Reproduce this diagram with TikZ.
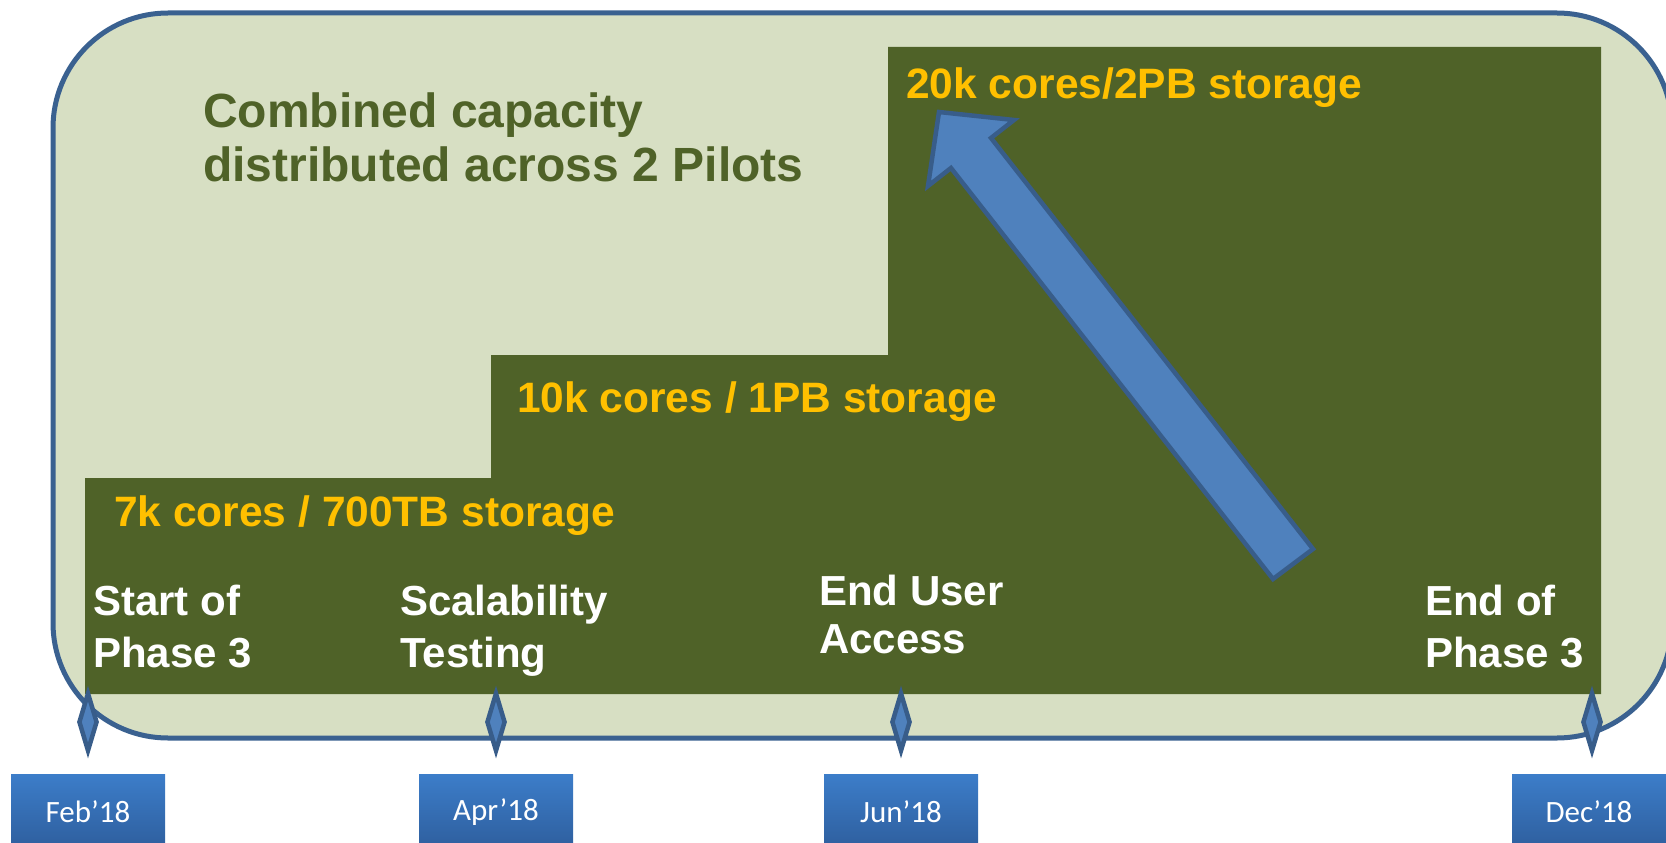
\documentclass[tikz,border=0pt]{standalone}
\usepackage{fontspec}
\setmainfont{Liberation Sans}
\newfontfamily\datefont{Carlito}
\usetikzlibrary{shapes.geometric}

\definecolor{panelfill}{HTML}{D7DFC3}
\definecolor{paneledge}{HTML}{3A6190}
\definecolor{stepgreen}{HTML}{4F6228}
\definecolor{capyellow}{HTML}{FFC000}
\definecolor{arrowblue}{HTML}{4F81BD}
\definecolor{arrowedge}{HTML}{385D8A}
\definecolor{boxtop}{HTML}{3C7DC9}
\definecolor{boxbottom}{HTML}{2E5E9D}

\tikzset{
  capacity/.style={text=capyellow, font=\bfseries\fontsize{42.5}{51}\selectfont,
    anchor=base west, inner sep=0pt},
  phase/.style={text=white, font=\bfseries\fontsize{42}{52}\selectfont,
    align=left, anchor=base west, inner sep=0pt},
  milestone/.style={diamond, draw=arrowedge, fill=arrowblue, line width=4.5pt,
    minimum width=19pt, minimum height=59pt, inner sep=0pt},
  datebox/.style={minimum width=154pt, minimum height=76pt, inner sep=0pt,
    top color=boxtop, bottom color=boxbottom, text=white,
    font=\datefont\fontsize{31}{37}\selectfont}
}

\begin{document}
\begin{tikzpicture}[x=1pt,y=-1pt]
\clip (0,0) rectangle (1666,843);

% panel
\draw[fill=panelfill, draw=paneledge, line width=5pt, rounded corners=115pt]
  (53,13) rectangle (1672,738);

% capacity steps
\fill[stepgreen] (85,694) -- (85,478) -- (491,478) -- (491,355) -- (888,355)
  -- (888,47) -- (1601,47) -- (1601,694) -- cycle;

% multi-line nodes sit on the baseline of their last line
\node[anchor=base west, inner sep=0pt, text=stepgreen, align=left,
  font=\bfseries\fontsize{48}{54}\selectfont] (title) at (203,181)
  {Combined capacity\\distributed across 2 Pilots};

\node[capacity] (cap3) at (906,99) {20k cores/2PB storage};
\node[capacity] (cap2) at (517,412) {10k cores / 1PB storage};
\node[capacity] (cap1) at (114,526) {7k cores / 700TB storage};

% growth arrow
\draw[fill=arrowblue, draw=arrowedge, line width=4.5pt, line join=miter]
  (1273,579) -- (1313,549) -- (991,138) -- (1014,120) -- (939,112)
  -- (928,186) -- (951,168) -- cycle;

\node[phase] (start) at (93,667) {Start of\\Phase 3};
\node[phase] (scale) at (400,667) {Scalability\\Testing};
\node[phase, font=\bfseries\fontsize{42}{48}\selectfont] (user) at (819,653) {End User\\Access};
\node[phase] (finish) at (1425,667) {End of\\Phase 3};

% milestones and dates
\node[milestone] (m1) at (88,722) {};
\node[milestone] (m2) at (496,722) {};
\node[milestone] (m3) at (901,722) {};
\node[milestone] (m4) at (1592,722) {};

\node[datebox] (d1) at (88,812) {Feb’18};
\node[datebox] (d2) at (496,812) {Apr’18};
\node[datebox] (d3) at (901,812) {Jun’18};
\node[datebox] (d4) at (1589,812) {Dec’18};
\end{tikzpicture}
\end{document}
